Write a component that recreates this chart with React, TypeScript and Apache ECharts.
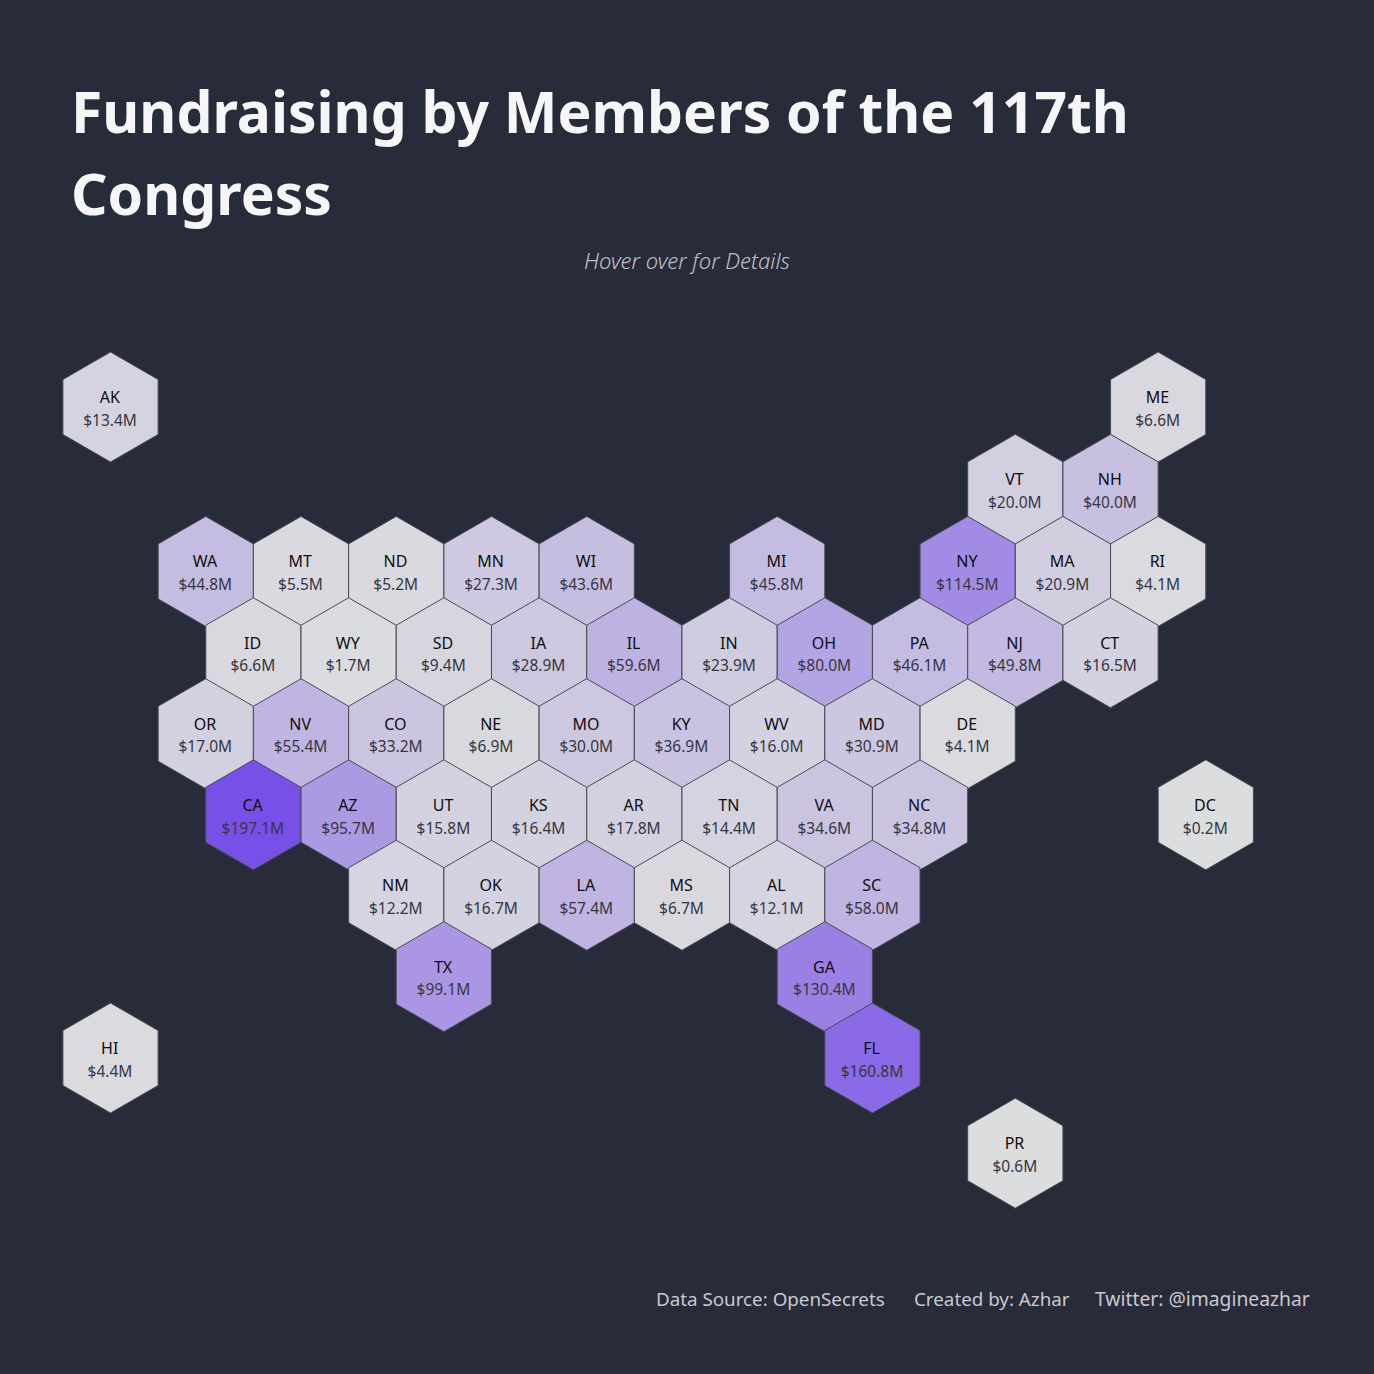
import React, { useEffect, useRef } from "react";
import * as echarts from "echarts";

const FONT = "'Noto Sans', sans-serif";
const TITLE_TEXT = "Fundraising by Members of the 117th\nCongress";
const SUBTITLE_TEXT = "Hover over for Details";
const FOOTER_SOURCE = "Data Source: OpenSecrets";
const FOOTER_AUTHOR = "Created by: Azhar";
const FOOTER_TWITTER = "Twitter: @imagineazhar";

const states = ["AK","ME","VT","NH","WA","MT","ND","MN","WI","MI","NY","MA","RI","ID","WY","SD","IA","IL","IN","OH","PA","NJ","CT","OR","NV","CO","NE","MO","KY","WV","MD","DE","CA","AZ","UT","KS","AR","TN","VA","NC","DC","NM","OK","LA","MS","AL","SC","TX","GA","HI","FL","PR"];
const cols = [0,22,19,21,2,4,6,8,10,14,18,20,22,3,5,7,9,11,13,15,17,19,21,2,4,6,8,10,12,14,16,18,3,5,7,9,11,13,15,17,23,6,8,10,12,14,16,7,15,0,16,19];
const rows = [0,0,1.012,1.012,2.02,2.02,2.02,2.02,2.02,2.02,2.02,2.02,2.02,3.02,3.02,3.02,3.02,3.02,3.02,3.02,3.02,3.02,3.02,4.015,4.015,4.015,4.015,4.015,4.015,4.015,4.015,4.015,5.012,5.012,5.012,5.012,5.012,5.012,5.012,5.012,5.012,6,6,6,6,6,6,7,7,8,8,9.17];
const amounts = [13.4,6.6,20.0,40.0,44.8,5.5,5.2,27.3,43.6,45.8,114.5,20.9,4.1,6.6,1.7,9.4,28.9,59.6,23.9,80.0,46.1,49.8,16.5,17.0,55.4,33.2,6.9,30.0,36.9,16.0,30.9,4.1,197.1,95.7,15.8,16.4,17.8,14.4,34.6,34.8,0.2,12.2,16.7,57.4,6.7,12.1,58.0,99.1,130.4,4.4,160.8,0.6];

export default function App() {
  const ref = useRef<HTMLDivElement>(null);
  useEffect(() => {
    document.body.style.margin = "0";
    const chart = echarts.init(ref.current!, null, { renderer: "svg" });
    const footer = (text: string, left: number, fontSize: number) => ({
      text, left, top: 1284,
      textStyle: { color: "#c8c9ce", fontFamily: FONT, fontSize, fontWeight: "normal" },
    });
    chart.setOption({
      animation: false,
      backgroundColor: "#282b3a",
      title: [
        { text: TITLE_TEXT, left: 66, top: 65,
          textStyle: { color: "#f6f6f7", fontFamily: FONT, fontSize: 57, fontWeight: "bold", lineHeight: 82 } },
        { text: SUBTITLE_TEXT, left: "center", top: 244,
          textStyle: { color: "#c0c1c8", fontFamily: FONT, fontSize: 22, fontStyle: "italic", fontWeight: 300 } },
        footer(FOOTER_SOURCE, 651, 18.8),
        footer(FOOTER_AUTHOR, 909, 18.8),
        footer(FOOTER_TWITTER, 1090, 19.3),
      ],
      grid: { left: 62.9, top: 407, width: 1190.5, height: 813.75 },
      xAxis: { type: "value", min: -1, max: 24, show: false },
      yAxis: { type: "value", min: 0, max: 10, inverse: true, show: false },
      visualMap: {
        show: false, type: "continuous", seriesIndex: 0, dimension: 2,
        min: 0, max: 197.1, inRange: { color: ["#dcdddf", "#7850e8"] },
      },
      series: [{
        type: "custom",
        coordinateSystem: "cartesian2d",
        clip: false,
        encode: { x: 0, y: 1 },
        data: states.map((s, i) => [cols[i], rows[i], amounts[i], s]),
        renderItem: (params: any, api: any) => {
          const c = api.coord([api.value(0), api.value(1)]);
          const hw = 47.6, hh = 55, sh = 27.5;
          const i = params.dataIndex;
          return {
            type: "group",
            children: [
              { type: "polygon",
                shape: { points: [[c[0], c[1]-hh],[c[0]+hw, c[1]-sh],[c[0]+hw, c[1]+sh],[c[0], c[1]+hh],[c[0]-hw, c[1]+sh],[c[0]-hw, c[1]-sh]] },
                style: { fill: api.visual("color"), stroke: "#4a4a52", lineWidth: 1 } },
              { type: "text", x: c[0]-0.8, y: c[1]-10,
                style: { text: states[i], fill: "#0d0e12", font: `16px ${FONT}`, textAlign: "center", textVerticalAlign: "middle" } },
              { type: "text", x: c[0]-0.5, y: c[1]+12.7,
                style: { text: `$${amounts[i].toFixed(1)}M`, fill: "#363642", font: `15.5px ${FONT}`, textAlign: "center", textVerticalAlign: "middle" } },
            ],
          };
        },
      }],
    });
    return () => chart.dispose();
  }, []);
  return <div ref={ref} style={{ width: 1374, height: 1374 }} />;
}
